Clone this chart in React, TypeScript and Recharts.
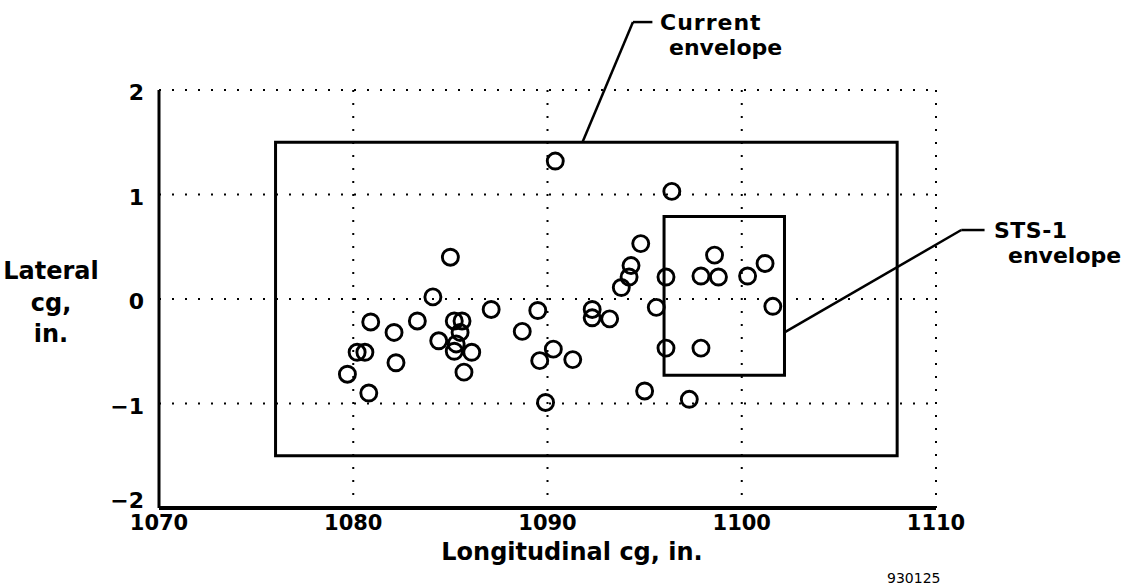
import React from 'react';
import {
  ScatterChart, Scatter, XAxis, YAxis, CartesianGrid, ReferenceArea, ReferenceLine,
} from 'recharts';

// longitudinal / lateral cg of flights
const LONGITUDINAL = [
  1079.7, 1080.2, 1080.6, 1080.8, 1080.9, 1082.1, 1082.2, 1083.3, 1084.1, 1084.4,
  1085.0, 1085.2, 1085.6, 1085.5, 1085.3, 1085.2, 1086.1, 1085.7, 1087.1, 1088.7,
  1089.5, 1089.6, 1089.9, 1090.3, 1090.4, 1091.3, 1092.3, 1092.3, 1093.2, 1093.8,
  1094.2, 1094.3, 1094.8, 1095.0, 1095.6, 1096.1, 1096.1, 1096.4, 1097.3, 1097.9,
  1097.9, 1098.6, 1098.8, 1100.3, 1101.2, 1101.6,
];
const LATERAL = [
  -0.72, -0.51, -0.51, -0.9, -0.22, -0.32, -0.61, -0.21, 0.02, -0.4,
  0.4, -0.21, -0.21, -0.32, -0.43, -0.5, -0.51, -0.7, -0.1, -0.31,
  -0.11, -0.59, -0.99, -0.48, 1.32, -0.58, -0.1, -0.18, -0.19, 0.11,
  0.21, 0.32, 0.53, -0.88, -0.08, 0.21, -0.47, 1.03, -0.96, 0.22,
  -0.47, 0.42, 0.21, 0.22, 0.34, -0.07,
];

const X_TICKS = [1070, 1080, 1090, 1100, 1110];
const Y_TICKS = [-2, -1, 0, 1, 2];

const CURRENT_X = [1076, 1108];
const CURRENT_Y = [-1.5, 1.5];
const STS1_X = [1096, 1102.2];
const STS1_Y = [-0.73, 0.79];

const CURRENT_LEADER = [
  { x: 1091.8, y: 1.5 }, { x: 1094.4, y: 2.65 }, { x: 1095.4, y: 2.65 },
];
const STS1_LEADER = [
  { x: 1102.2, y: -0.32 }, { x: 1111.3, y: 0.66 }, { x: 1112.5, y: 0.66 },
];

const FONT = '"DejaVu Sans", sans-serif';

const data = LONGITUDINAL.map((x, i) => ({ x, y: LATERAL[i] }));

function Ring(props: any) {
  return <circle cx={props.cx} cy={props.cy} r={8} fill="none" stroke="#000" strokeWidth={2.9} />;
}

function XTick(props: any) {
  return (
    <text x={props.x} y={props.y} dy={22} textAnchor="middle" fontFamily={FONT} fontWeight="bold" fontSize={21} fill="#000">
      {props.payload.value}
    </text>
  );
}

function YTick(props: any) {
  const v = props.payload.value;
  // the bottom label sits above its line in the original
  const dy = v === -2 ? 0 : 10;
  return (
    <text x={props.x - 15} y={props.y} dy={dy} textAnchor="end" fontFamily={FONT} fontWeight="bold" fontSize={22} fill="#000">
      {v < 0 ? '\u2212' + Math.abs(v) : v}
    </text>
  );
}

function leader(pts: { x: number; y: number }[], key: string) {
  return pts.slice(1).map((p, i) => (
    <ReferenceLine
      key={key + i}
      segment={[pts[i], p]}
      stroke="#000"
      strokeWidth={2.5}
      ifOverflow="visible"
    />
  ));
}

export default function App() {
  return (
    <div style={{ position: 'absolute', left: 0, top: 0, width: 1134, height: 585, background: '#fff' }}>
      <ScatterChart width={1134} height={585} margin={{ top: 90, right: 198, bottom: 37, left: 99 }}>
        <CartesianGrid stroke="#000" strokeWidth={2} strokeDasharray="2 11" />
        <XAxis
          type="number"
          dataKey="x"
          domain={[1070, 1110]}
          ticks={X_TICKS}
          height={40}
          axisLine={{ stroke: '#000', strokeWidth: 4 }}
          tickLine={false}
          tickSize={0}
          tickMargin={0}
          tick={<XTick />}
        />
        <YAxis
          type="number"
          dataKey="y"
          domain={[-2, 2]}
          ticks={Y_TICKS}
          width={60}
          axisLine={{ stroke: '#000', strokeWidth: 3 }}
          tickLine={false}
          tickSize={0}
          tickMargin={0}
          tick={<YTick />}
        />
        <ReferenceArea x1={CURRENT_X[0]} x2={CURRENT_X[1]} y1={CURRENT_Y[0]} y2={CURRENT_Y[1]} fill="none" stroke="#000" strokeWidth={3} />
        <ReferenceArea x1={STS1_X[0]} x2={STS1_X[1]} y1={STS1_Y[0]} y2={STS1_Y[1]} fill="none" stroke="#000" strokeWidth={3} />
        {leader(CURRENT_LEADER, 'cur')}
        {leader(STS1_LEADER, 'sts')}
        <Scatter data={data} shape={<Ring />} isAnimationActive={false} />
      </ScatterChart>
      <svg width={1134} height={585} style={{ position: 'absolute', left: 0, top: 0, pointerEvents: 'none' }}>
        <g fontFamily={FONT} fontWeight="bold" fill="#000">
          <text x={660} y={30} fontSize={22} letterSpacing={1}>Current</text>
          <text x={669} y={55} fontSize={22}>envelope</text>
          <text x={994} y={238} fontSize={22} letterSpacing={0.5}>STS-1</text>
          <text x={1008} y={263} fontSize={22}>envelope</text>
          <text x={51} y={279} fontSize={24} textAnchor="middle">Lateral</text>
          <text x={51} y={311} fontSize={24} textAnchor="middle">cg,</text>
          <text x={51} y={342} fontSize={24} textAnchor="middle">in.</text>
          <text x={572} y={560} fontSize={24} textAnchor="middle">Longitudinal cg, in.</text>
        </g>
        <text x={887} y={583} fontFamily={FONT} fontSize={14} fill="#000">930125</text>
      </svg>
    </div>
  );
}
